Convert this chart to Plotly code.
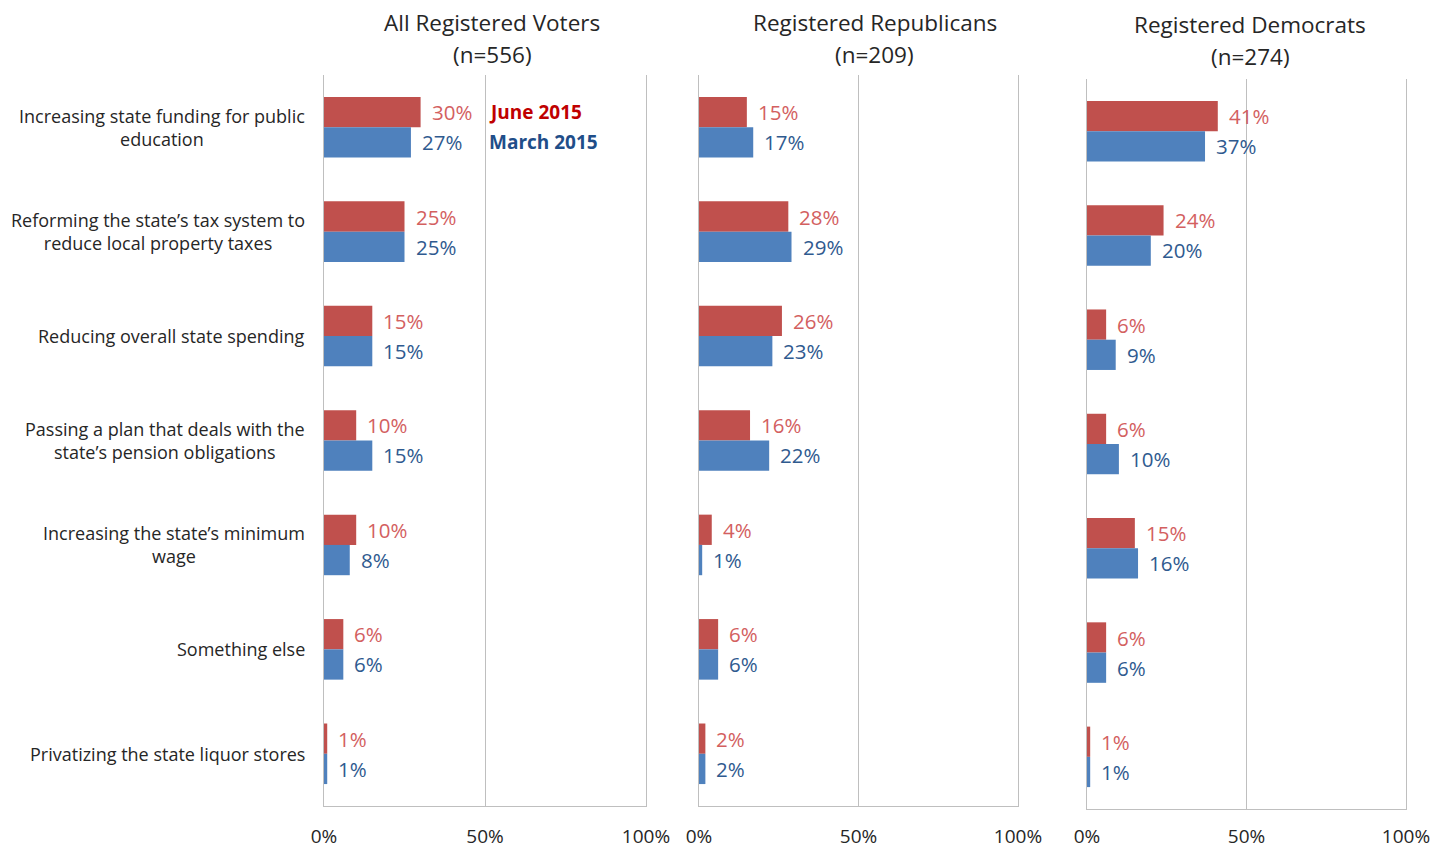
import plotly.graph_objects as go

categories = [
    "Increasing state funding for public<br>education",
    "Reforming the state\u2019s tax system to<br>reduce local property taxes",
    "Reducing overall state spending",
    "Passing a plan that deals with the<br>state\u2019s pension obligations",
    "Increasing the state\u2019s minimum<br>wage",
    "Something else",
    "Privatizing the state liquor stores",
]
panel_titles = [
    ("All Registered Voters", "(n=556)"),
    ("Registered Republicans", "(n=209)"),
    ("Registered Democrats", "(n=274)"),
]
june = [
    [30, 25, 15, 10, 10, 6, 1],
    [15, 28, 26, 16, 4, 6, 2],
    [41, 24, 6, 6, 15, 6, 1],
]
march = [
    [27, 25, 15, 15, 8, 6, 1],
    [17, 29, 23, 22, 1, 6, 2],
    [37, 20, 9, 10, 16, 6, 1],
]
series_names = ["June 2015", "March 2015"]
tick_vals = [0, 50, 100]
tick_text = ["0%", "50%", "100%"]

OFF = 8  # page body margin
W, H = 1450 - OFF, 848 - OFF
RED_BAR = "#C0504D"
BLUE_BAR = "#4F81BD"
RED_TXT = "#D3605F"
BLUE_TXT = "#2F5A8F"
GRID = "#BFBFBF"
FONT = "Open Sans"


def px_x(p):
    return (p - OFF) / W


def px_y(p):
    return 1 - (p - OFF) / H


x_px = [(324, 646), (699, 1018), (1087, 1406)]
y_px = [(75, 806), (75, 806), (79, 809)]
title_x = [492, 875, 1250]
standoffs = [13, 13, 10]

fig = go.Figure()
for i in range(3):
    xa = "x" if i == 0 else f"x{i+1}"
    ya = "y" if i == 0 else f"y{i+1}"
    fig.add_trace(go.Bar(y=categories, x=june[i], orientation="h", marker_color=RED_BAR,
                         marker_line_width=0,
                         name=series_names[0], xaxis=xa, yaxis=ya, showlegend=False))
    fig.add_trace(go.Bar(y=categories, x=march[i], orientation="h", marker_color=BLUE_BAR,
                         marker_line_width=0,
                         name=series_names[1], xaxis=xa, yaxis=ya, showlegend=False))
    x0, x1 = x_px[i]
    y0, y1 = y_px[i]
    key = "" if i == 0 else str(i + 1)
    fig.layout["xaxis" + key] = dict(
        domain=[px_x(x0), px_x(x1)], range=[0, 100], anchor=ya, automargin=False,
        tickvals=tick_vals, ticktext=tick_text, showgrid=True, gridcolor=GRID, gridwidth=1.3,
        showline=True, linecolor=GRID, linewidth=1.3, zeroline=False,
        ticks="", ticklabelstandoff=standoffs[i],
        tickfont=dict(family=FONT, size=19, color="#262626"),
    )
    fig.layout["yaxis" + key] = dict(
        domain=[px_y(y1), px_y(y0)], anchor=xa, autorange="reversed", automargin=False,
        showticklabels=False, showgrid=False, showline=True, linecolor=GRID, linewidth=1.3,
        mirror=True, ticks="",
    )
    # title (two lines)
    for k, line in enumerate(panel_titles[i]):
        fig.add_annotation(xref="paper", yref="paper", x=px_x(title_x[i]),
                           y=px_y(22 + 32 * k + (y0 - 75) * 0.5),
                           xanchor="center", yanchor="middle", text=line, showarrow=False,
                           font=dict(family=FONT, size=22.5, color="#262626"))
    # value labels
    for j, c in enumerate(categories):
        fig.add_annotation(xref=xa, yref=ya, x=june[i][j], y=c, yshift=15, xshift=9,
                           xanchor="left", yanchor="middle", text=f"{june[i][j]}%", showarrow=False,
                           font=dict(family=FONT, size=20.5, color=RED_TXT))
        fig.add_annotation(xref=xa, yref=ya, x=march[i][j], y=c, yshift=-15, xshift=9,
                           xanchor="left", yanchor="middle", text=f"{march[i][j]}%", showarrow=False,
                           font=dict(family=FONT, size=20.5, color=BLUE_TXT))

# category labels
for j, c in enumerate(categories):
    fig.add_annotation(xref="paper", yref="y", x=px_x(307), y=c, xanchor="right", yanchor="middle",
                       text=c, showarrow=False, align="center",
                       font=dict(family=FONT, size=18, color="#262626"))

# legend text
fig.add_annotation(xref="x", yref="y", x=50, y=categories[0], xshift=2, yshift=15, xanchor="left",
                   yanchor="middle", text="<b>June 2015</b>", showarrow=False,
                   font=dict(family=FONT, size=19, color="#C00000"))
fig.add_annotation(xref="x", yref="y", x=50, y=categories[0], xshift=2, yshift=-15, xanchor="left",
                   yanchor="middle", text="<b>March 2015</b>", showarrow=False,
                   font=dict(family=FONT, size=19, color="#1F4E89"))

fig.update_layout(
    width=W, height=H, margin=dict(l=0, r=0, t=0, b=0, autoexpand=False),
    paper_bgcolor="white", plot_bgcolor="white",
    barmode="group", bargap=0.42, bargroupgap=0,
    font=dict(family=FONT),
)
fig.write_html("out.html")
